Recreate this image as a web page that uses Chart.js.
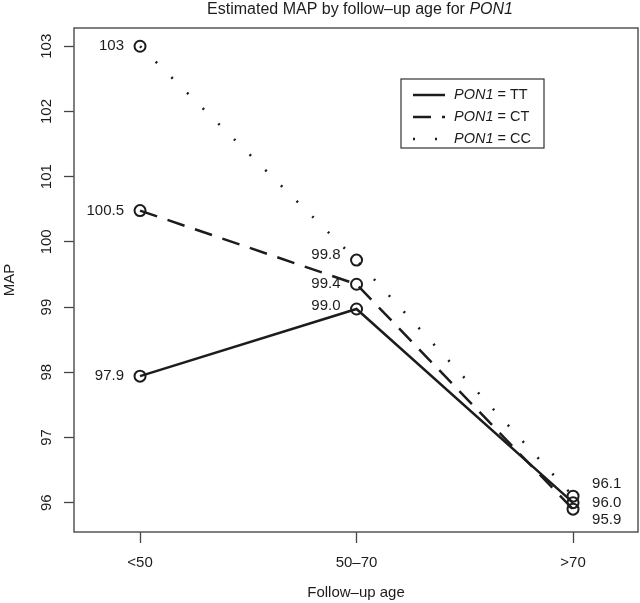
<!DOCTYPE html>
<html>
<head>
<meta charset="utf-8">
<script src="https://cdn.jsdelivr.net/npm/chart.js@4/dist/chart.umd.min.js"></script>
<style>
  html, body { margin: 0; padding: 0; background: #fff; overflow: hidden; }
  #wrap { width: 640px; height: 603px; }
  canvas { display: block; }
</style>
</head>
<body>
<div id="wrap"><canvas id="mapChart"></canvas></div>
<script>
// values
const ageGroups = ['<50', '50–70', '>70'];
const ageX = [1, 2, 3];
const mapTT = [97.94, 98.97, 96.0];
const mapCT = [100.48, 99.35, 95.9];
const mapCC = [103.0, 99.72, 96.1];
const textTT = ['97.9', '99.0', '96.0'];
const textCT = ['100.5', '99.4', '95.9'];
const textCC = ['103', '99.8', '96.1'];
const mapTicks = [96, 97, 98, 99, 100, 101, 102, 103];
const seriesNames = ['TT', 'CT', 'CC'];

const ink = '#1c1c1c';
const font = '"Liberation Sans", Arial, sans-serif';

function pts(vals) {
    return vals.map((v, i) => ({ x: ageX[i], y: v }));
}

const lineStyles = [
    { borderDash: [] },
    { borderDash: [18, 11] },
    { borderDash: [2, 20] }
];

// vertical nudges for the crowded labels at >70
const lastLabelDy = [0, 11, -12];

const decor = {
    id: 'decor',
    afterDraw(chart) {
        const { ctx, chartArea: a, scales: { x, y } } = chart;
        ctx.save();

        // plot box
        ctx.strokeStyle = '#555';
        ctx.lineWidth = 1.5;
        ctx.strokeRect(a.left, a.top, a.right - a.left, a.bottom - a.top);

        // title
        ctx.fillStyle = ink;
        ctx.textBaseline = 'middle';
        const t1 = 'Estimated MAP by follow–up age for ';
        const t2 = 'PON1';
        ctx.font = '16px ' + font;
        const w1 = ctx.measureText(t1).width;
        ctx.font = 'italic 16px ' + font;
        const w2 = ctx.measureText(t2).width;
        const cx = (a.left + a.right) / 2;
        let tx = cx + 4 - (w1 + w2) / 2;
        ctx.textAlign = 'left';
        ctx.font = '16px ' + font;
        ctx.fillText(t1, tx, 10);
        ctx.font = 'italic 16px ' + font;
        ctx.fillText(t2, tx + w1, 10);

        // axis titles
        ctx.font = '15px ' + font;
        ctx.textAlign = 'center';
        ctx.fillText('Follow–up age', cx, 593);
        ctx.save();
        ctx.translate(10, (a.top + a.bottom) / 2);
        ctx.rotate(-Math.PI / 2);
        ctx.fillText('MAP', 0, 0);
        ctx.restore();

        // y tick labels (rotated like R)
        mapTicks.forEach(v => {
            ctx.save();
            ctx.translate(47, y.getPixelForValue(v));
            ctx.rotate(-Math.PI / 2);
            ctx.fillText(String(v), 0, 0);
            ctx.restore();
        });

        // point labels
        const texts = [textTT, textCT, textCC];
        chart.data.datasets.forEach((ds, di) => {
            ds.data.forEach((p, i) => {
                const px = x.getPixelForValue(p.x);
                const py = y.getPixelForValue(p.y);
                if (i < 2) {
                    ctx.textAlign = 'right';
                    ctx.fillText(texts[di][i], px - 16, py - (di === 2 && i === 1 ? 5 : 0) - (di === 0 && i === 1 ? 3 : 0));
                } else {
                    ctx.textAlign = 'left';
                    ctx.fillText(texts[di][i], px + 19, py + lastLabelDy[di]);
                }
            });
        });

        // legend
        const lx = 401, ly = 79, lw = 143, lh = 69;
        ctx.strokeStyle = '#333';
        ctx.lineWidth = 1.2;
        ctx.strokeRect(lx, ly, lw, lh);
        seriesNames.forEach((name, i) => {
            const ry = ly + 16 + i * 22;
            ctx.strokeStyle = ink;
            ctx.lineWidth = 2.5;
            ctx.setLineDash(lineStyles[i].borderDash);
            ctx.beginPath();
            ctx.moveTo(lx + 12, ry);
            ctx.lineTo(lx + 44, ry);
            ctx.stroke();
            ctx.setLineDash([]);
            ctx.textAlign = 'left';
            ctx.font = 'italic 14.5px ' + font;
            ctx.fillText('PON1', lx + 53, ry);
            const pw = ctx.measureText('PON1').width;
            ctx.font = '14.5px ' + font;
            ctx.fillText(' = ' + name, lx + 53 + pw, ry);
        });

        ctx.restore();
    }
};

const ctx = document.getElementById('mapChart').getContext('2d');

const mapChart = new Chart(ctx, {
    type: 'line',
    data: {
        datasets: [mapTT, mapCT, mapCC].map((vals, i) => ({
            label: 'PON1 = ' + seriesNames[i],
            data: pts(vals),
            borderColor: ink,
            borderWidth: 2.5,
            borderDash: lineStyles[i].borderDash,
            pointRadius: 5.5,
            pointBorderWidth: 2,
            pointBorderColor: ink,
            pointBackgroundColor: 'transparent',
            tension: 0
        }))
    },
    options: {
        responsive: true,
        maintainAspectRatio: false,
        animation: false,
        layout: { autoPadding: false, padding: { top: 28, right: 2, left: 0, bottom: 0 } },
        plugins: {
            legend: { display: false },
            tooltip: { enabled: false }
        },
        scales: {
            x: {
                type: 'linear',
                min: 0.695,
                max: 3.3,
                afterBuildTicks: s => { s.ticks = ageX.map(v => ({ value: v })); },
                afterFit: s => { s.height = 71; s.paddingLeft = 0; s.paddingRight = 0; },
                grid: { drawOnChartArea: false, drawTicks: true, tickLength: 11, color: '#444', tickWidth: 1.3 },
                border: { display: false },
                ticks: {
                    color: ink,
                    font: { family: font, size: 15 },
                    padding: 11,
                    maxRotation: 0,
                    callback: v => ageGroups[ageX.indexOf(v)] || ''
                }
            },
            y: {
                min: 95.55,
                max: 103.28,
                afterBuildTicks: s => { s.ticks = mapTicks.map(v => ({ value: v })); },
                afterFit: s => { s.width = 74; s.paddingTop = 0; s.paddingBottom = 0; },
                grid: { drawOnChartArea: false, drawTicks: true, tickLength: 10, color: '#444', tickWidth: 1.3 },
                border: { display: false },
                ticks: {
                    color: 'rgba(0,0,0,0)',
                    font: { family: font, size: 15 },
                    padding: 4
                }
            }
        }
    },
    plugins: [decor]
});
</script>
</body>
</html>
